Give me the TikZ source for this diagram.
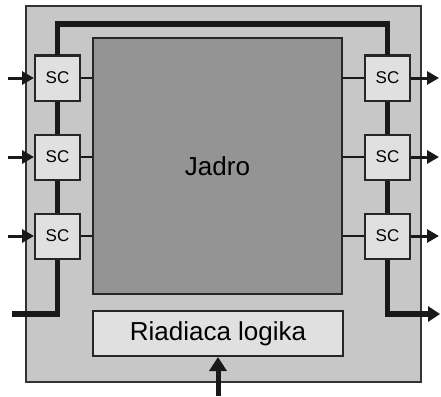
\documentclass[tikz,border=0pt]{standalone}
\usepackage{fontspec}
\setmainfont{Liberation Sans}
\usetikzlibrary{arrows.meta, positioning}

\begin{document}
\begin{tikzpicture}[
    x=1pt, y=-1pt,
    >={Triangle[length=12pt, width=13pt]},
    chip/.style={draw=black!80, line width=1.2pt, fill=black!22, minimum width=395pt, minimum height=376pt},
    core/.style={draw=black!85, line width=2pt, fill=black!42, minimum width=249pt, minimum height=256pt, font=\fontsize{26}{30}\selectfont},
    logic/.style={draw=black!85, line width=2pt, fill=black!12, minimum width=250pt, minimum height=45pt, font=\fontsize{26}{30}\selectfont},
    scbox/.style={draw=black!85, line width=2pt, fill=black!12, minimum size=45pt, inner sep=0pt, font=\fontsize{17}{20}\selectfont},
    bus/.style={line width=5.5pt, black!90},
    link/.style={line width=2pt, black!90},
    io/.style={->, line width=3pt, black!90}
]
\useasboundingbox (0,0) rectangle (441,396);

% Chip and blocks
\node[chip] (chip) at (223.5,194) {};
\node[core] (core) at (217.5,166) {Jadro};
\node[logic] (logic) at (218,333.5) {Riadiaca logika};

% SC cells
\node[scbox] (scl1) at (57.5,78) {SC};
\node[scbox] (scl2) at (57.5,157) {SC};
\node[scbox] (scl3) at (57.5,236) {SC};
\node[scbox] (scr1) at (387.5,78) {SC};
\node[scbox] (scr2) at (387.5,157) {SC};
\node[scbox] (scr3) at (387.5,236) {SC};

% Bus ends
\coordinate (busin) at (12,314);
\coordinate (busout) at (440,314);
\coordinate (ctrlin) at (218,396);

% Scan chain
\draw[bus] (busin) -| (scl3.south);
\draw[bus] (scl3.north) -- (scl2.south);
\draw[bus] (scl2.north) -- (scl1.south);
\draw[bus] (scl1.north) |- (387.5,24) -- (scr1.north);
\draw[bus] (scr1.south) -- (scr2.north);
\draw[bus] (scr2.south) -- (scr3.north);
\draw[bus, -{Triangle[length=12pt, width=15pt]}] (scr3.south) |- (busout);

% Links to the core
\foreach \i in {1,2,3} {
  \draw[link] (scl\i.east) -- (scl\i.east -| core.west);
  \draw[link] (scr\i.west) -- (scr\i.west -| core.east);
  \coordinate (in\i) at (scl\i.west -| 8,0);
  \coordinate (out\i) at (scr\i.east -| 439,0);
  \draw[io] (in\i) -- (scl\i.west);
  \draw[io] (scr\i.east) -- (out\i);
}

% Control input
\draw[io, line width=5pt, -{Triangle[length=14pt, width=17pt]}] (ctrlin) -- (logic.south);

\end{tikzpicture}
\end{document}
